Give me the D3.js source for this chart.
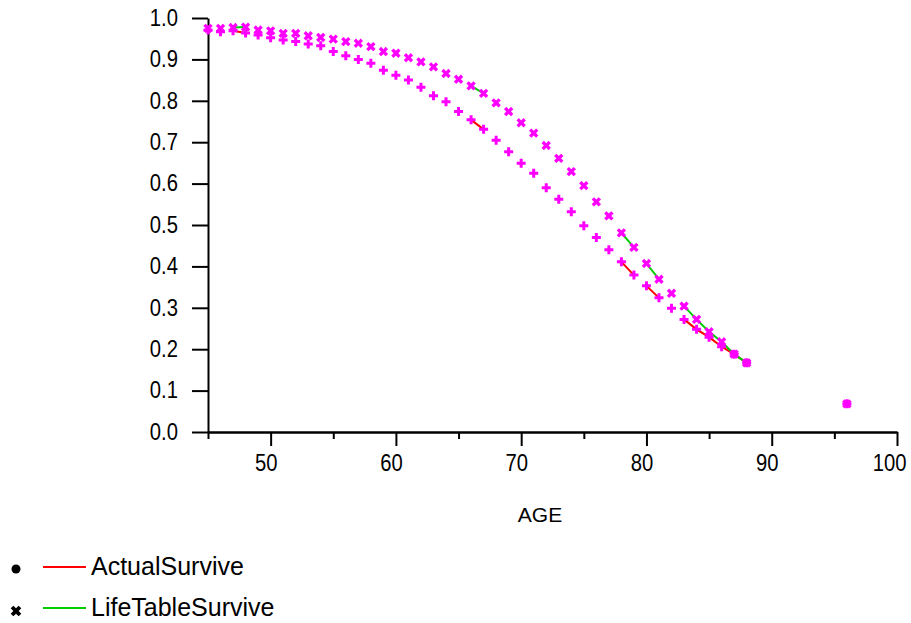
<!DOCTYPE html>
<html>
<head>
<meta charset="utf-8">
<script src="https://cdn.jsdelivr.net/npm/d3@7"></script>
<style>
  body { margin: 0; background: #fff; }
  text { font-family: "Liberation Sans", Arial, sans-serif; fill: #000; }
</style>
</head>
<body>
<div id="chart"></div>
<script>
const layout = {
    width: 911,
    height: 623,
    left: 208,
    right: 897,
    top: 18,
    bottom: 432
};

// data
const ages = [45, 46, 47, 48, 49, 50, 51, 52, 53, 54, 55, 56, 57, 58, 59, 60, 61, 62, 63, 64,
    65, 66, 67, 68, 69, 70, 71, 72, 73, 74, 75, 76, 77, 78, 79, 80, 81, 82, 83, 84, 85, 86, 87, 88, 96];
const actualSurvive = [0.971, 0.967, 0.969, 0.964, 0.959, 0.952, 0.947, 0.943, 0.937, 0.933,
    0.919, 0.909, 0.900, 0.891, 0.874, 0.862, 0.850, 0.833, 0.812, 0.798,
    0.774, 0.754, 0.731, 0.705, 0.677, 0.649, 0.625, 0.590, 0.562, 0.532,
    0.498, 0.470, 0.440, 0.411, 0.379, 0.353, 0.324, 0.299, 0.272, 0.248,
    0.229, 0.206, 0.188, 0.167, 0.068];
const lifeTableSurvive = [0.975, 0.975, 0.977, 0.978, 0.971, 0.969, 0.963, 0.963, 0.957, 0.953,
    0.949, 0.943, 0.939, 0.931, 0.919, 0.915, 0.904, 0.894, 0.882, 0.866,
    0.852, 0.836, 0.818, 0.795, 0.774, 0.747, 0.722, 0.692, 0.661, 0.629,
    0.595, 0.556, 0.522, 0.481, 0.446, 0.407, 0.369, 0.335, 0.304, 0.272,
    0.242, 0.218, 0.188, 0.167, 0.068];
// only these runs of ages are joined by a line
const lineRuns = [[47, 48], [66, 67], [78, 79], [80, 81], [83, 88]];
const xMajorTicks = [50, 60, 70, 80, 90, 100];
const xMinorTicks = [45, 55, 65, 75, 85, 95];
const yTicks = [0, 0.1, 0.2, 0.3, 0.4, 0.5, 0.6, 0.7, 0.8, 0.9, 1.0];

const seriesList = [
    { name: "ActualSurvive", values: actualSurvive, line: "#ff0000", marker: "plus" },
    { name: "LifeTableSurvive", values: lifeTableSurvive, line: "#00cc00", marker: "x" }
];

let svg = d3.select("#chart").append("svg")
    .attr("width", layout.width)
    .attr("height", layout.height);

let xScale = d3.scaleLinear().domain([45, 100]).range([layout.left, layout.right]);
let yScale = d3.scaleLinear().domain([0, 1]).range([layout.bottom, layout.top]);

// the tick labels in the picture are narrow and tall
const squeeze = 0.88;

// axes
let xAxisMinor = svg.append("g")
    .attr("transform", `translate(0,${layout.bottom})`)
    .call(d3.axisBottom(xScale).tickValues(xMinorTicks).tickSize(7).tickSizeOuter(0).tickFormat(""));
let xAxis = svg.append("g")
    .attr("transform", `translate(0,${layout.bottom})`)
    .call(d3.axisBottom(xScale).tickValues(xMajorTicks).tickSize(14).tickSizeOuter(0).tickPadding(9));
let yAxis = svg.append("g")
    .attr("transform", `translate(${layout.left},0)`)
    .call(d3.axisLeft(yScale).tickValues(yTicks).tickSize(16).tickSizeOuter(0).tickPadding(14)
        .tickFormat(d3.format(".1f")));

svg.selectAll(".domain, .tick line").attr("stroke", "#000").attr("stroke-width", 2);
svg.selectAll(".tick text").attr("font-size", 23).attr("font-family", "Liberation Sans, Arial, sans-serif")
    .attr("fill", "#000");
xAxis.selectAll(".tick text")
    .attr("x", d => (d === 100 ? -8 : -5) / squeeze)
    .attr("transform", `scale(${squeeze},1)`);
yAxis.selectAll(".tick text")
    .attr("x", -30 / squeeze)
    .attr("transform", `scale(${squeeze},1)`);

svg.append("text")
    .attr("x", 540)
    .attr("y", 522)
    .attr("text-anchor", "middle")
    .attr("font-size", 21)
    .text("AGE");

// lines
let line = d3.line()
    .x(d => xScale(d[0]))
    .y(d => yScale(d[1]));

seriesList.forEach(s => {
    lineRuns.forEach(run => {
        let pts = ages.map((a, i) => [a, s.values[i]]).filter(p => p[0] >= run[0] && p[0] <= run[1]);
        svg.append("path")
            .datum(pts)
            .attr("fill", "none")
            .attr("stroke", s.line)
            .attr("stroke-width", 2)
            .attr("d", line);
    });
});

// markers
let plusSym = d3.symbol().type(d3.symbolCross).size(45);
let xSym = d3.symbol().type(d3.symbolCross).size(55);

function markerPath(kind) {
    return kind === "x" ? xSym() : plusSym();
}

seriesList.forEach(s => {
    svg.append("g").selectAll("path")
        .data(ages.map((a, i) => [a, s.values[i]]))
        .join("path")
        .attr("d", markerPath(s.marker))
        .attr("transform", d => `translate(${xScale(d[0])},${yScale(d[1])})` + (s.marker === "x" ? " rotate(45)" : ""))
        .attr("fill", "#ff00ff");
});

// legend
let legend = svg.append("g");
seriesList.forEach((s, i) => {
    let y = 567 + i * 41;
    if (s.marker === "x") {
        legend.append("path")
            .attr("d", d3.symbol().type(d3.symbolCross).size(70)())
            .attr("transform", `translate(16,${y + 3}) rotate(45)`)
            .attr("fill", "#000");
    } else {
        legend.append("circle")
            .attr("cx", 16).attr("cy", y + 2).attr("r", 4.5)
            .attr("fill", "#000");
    }
    legend.append("line")
        .attr("x1", 43).attr("x2", 86)
        .attr("y1", y).attr("y2", y)
        .attr("stroke", s.line)
        .attr("stroke-width", 2);
    legend.append("text")
        .attr("x", 91)
        .attr("y", y + 8)
        .attr("font-size", 25)
        .text(s.name);
});
</script>
</body>
</html>
